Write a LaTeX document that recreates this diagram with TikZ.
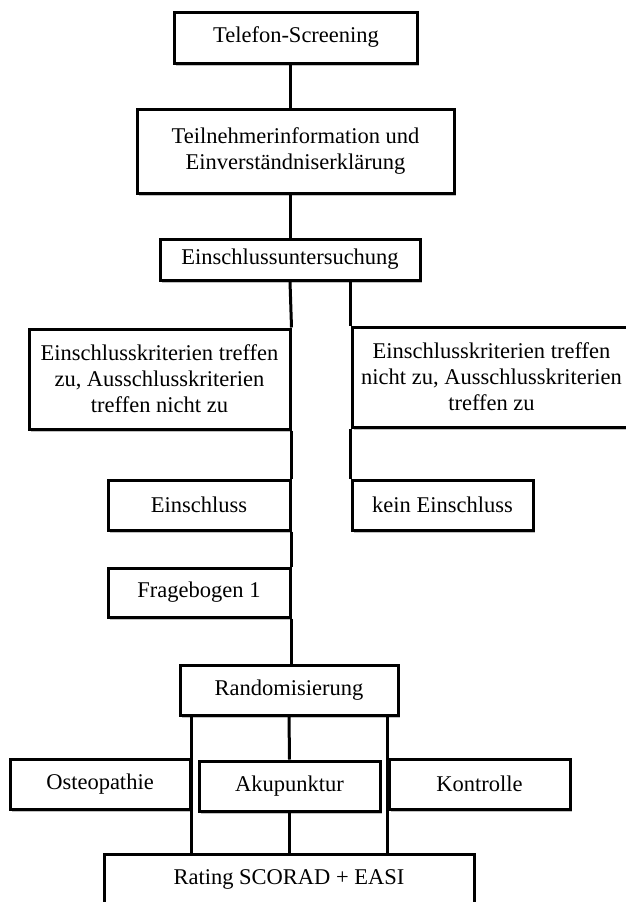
\documentclass[tikz,border=0pt]{standalone}
\usepackage{fontspec}
\setmainfont{Liberation Serif}
\usetikzlibrary{shadows,positioning,calc}

\begin{document}
\begin{tikzpicture}[x=1pt, y=-1pt, box/.style={draw=black, line width=3pt, fill=white, align=center, inner sep=0pt, font=\fontsize{22.5}{26}\selectfont, drop shadow={shadow xshift=1.5pt, shadow yshift=-2.5pt, opacity=0.35, fill=black!70}}, link/.style={draw=black, line width=3pt}]
  \useasboundingbox (0, 0) rectangle (625, 902);
  \node[box, minimum width=243pt, minimum height=51pt] (tel) at (296, 37.5) {Telefon-Screening};
  \node[box, minimum width=317pt, minimum height=84pt] (info) at (295.5, 151) {Teilnehmerinformation und\\Einverständniserklärung};
  \node[box, minimum width=260pt, minimum height=41pt] (unters) at (290, 259.5) {Einschlussuntersuchung};
  \node[box, minimum width=261pt, minimum height=100pt] (ja) at (159.5, 379) {Einschlusskriterien treffen\\zu, Ausschlusskriterien\\treffen nicht zu};
  \node[box, minimum width=279pt, minimum height=100pt] (nein) at (491.5, 377) {Einschlusskriterien treffen\\nicht zu, Ausschlusskriterien\\treffen zu};
  \node[box, minimum width=182pt, minimum height=50pt] (ein) at (199, 505) {Einschluss};
  \node[box, minimum width=181pt, minimum height=50pt] (kein) at (442.5, 505) {kein Einschluss};
  \node[box, minimum width=182pt, minimum height=49pt] (frage) at (199, 592.5) {Fragebogen 1};
  \node[box, minimum width=218pt, minimum height=50pt] (rand) at (289, 690) {Randomisierung};
  \node[box, minimum width=180pt, minimum height=50pt] (osteo) at (100, 784) {Osteopathie};
  \node[box, minimum width=181pt, minimum height=50pt] (aku) at (289.5, 786) {Akupunktur};
  \node[box, minimum width=181pt, minimum height=50pt] (kontr) at (479.5, 784) {Kontrolle};
  \node[box, minimum width=370pt, minimum height=50pt] (rating) at (289, 879) {Rating SCORAD + EASI};
  \draw[link] (tel.south -| unters) -- (info.north -| unters);
  \draw[link] (info.south -| unters) -- (unters.north);
  \draw[link] (unters.south) -- (ja.north east);
  \foreach \a/\b in {ja/ein, ein/frage} {
    \draw[link] (\a.south east) -- (\b.north east);
  }
  \draw[link] (frage.south east) -- (rand.north -| frage.south east);
  \draw[link] (unters.south -| nein.west) -- (nein.north west);
  \draw[link] (nein.south west) -- (kein.north west);
  \draw[link] (rand.south -| osteo.east) -- (rating.north -| osteo.east);
  \draw[link] (rand.south) -- (aku.north);
  \draw[link] (aku.south) -- (rating.north -| aku.south);
  \draw[link] (rand.south -| kontr.west) -- (rating.north -| kontr.west);
\end{tikzpicture}
\end{document}
